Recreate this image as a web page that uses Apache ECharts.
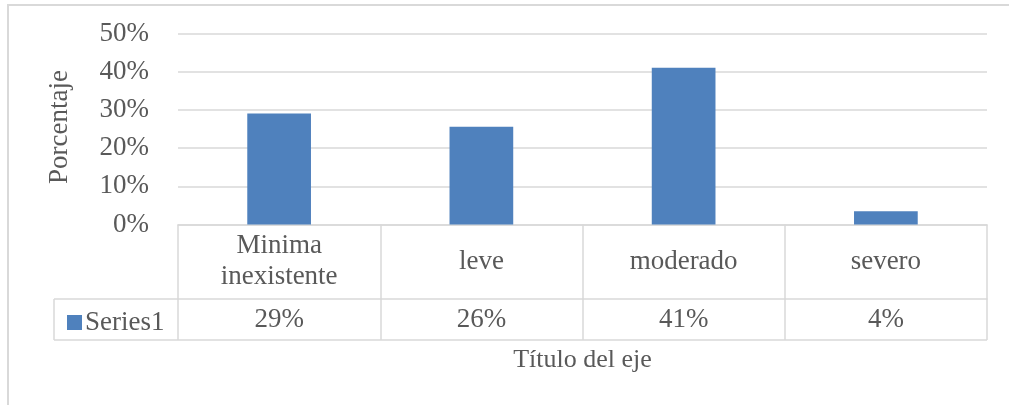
<!DOCTYPE html>
<html>
<head>
<meta charset="utf-8">
<script src="https://cdn.jsdelivr.net/npm/echarts@6/dist/echarts.min.js"></script>
<style>
  html, body { margin: 0; padding: 0; background: #fff; }
  #chart { width: 1009px; height: 405px; }
</style>
</head>
<body>
<div id="chart"></div>
<script>
// datos del gráfico
const categories = ['Minima\ninexistente', 'leve', 'moderado', 'severo'];
const values = [29.1, 25.6, 41.1, 3.5];
const yTicks = [0, 10, 20, 30, 40, 50];
const seriesName = 'Series1';

const FONT = '"Liberation Serif", "Times New Roman", serif';
const FS = 27;
const TXT = '#595959';
const LINE = '#d9d9d9';

// posiciones del área de trazado / tabla
const gridLeft = 178, gridRight = 987, gridTop = 33.7, gridBottom = 224.5;
const rowLine = 299, tableBottom = 340, legendLeft = 54;

const chart = echarts.init(document.getElementById('chart'));

const option = {
  animation: false,
  grid: { left: gridLeft, right: 1009 - gridRight, top: gridTop, bottom: 405 - gridBottom },
  legend: {
    data: [seriesName],
    left: 62, top: rowLine + 5,
    icon: 'rect', itemWidth: 15, itemHeight: 15, itemGap: 5,
    textStyle: { fontFamily: FONT, fontSize: FS, color: TXT, padding: [0, 0, 0, -2] }
  },
  xAxis: [
    {
      type: 'category',
      data: categories,
      axisLine: { lineStyle: { color: LINE, width: 1.5 } },
      axisTick: { show: true, length: tableBottom - gridBottom, lineStyle: { color: LINE, width: 1.5 } },
      axisLabel: {
        margin: (rowLine - gridBottom) / 2, verticalAlign: 'middle', lineHeight: 31,
        fontFamily: FONT, fontSize: FS, color: TXT, interval: 0, padding: [4, 0, 0, 0]
      }
    },
    {
      type: 'category',
      data: categories,
      position: 'bottom',
      offset: rowLine - gridBottom,
      axisLine: { lineStyle: { color: LINE, width: 1.5 } },
      axisTick: { show: false },
      axisLabel: {
        margin: (tableBottom - rowLine) / 2, verticalAlign: 'middle', interval: 0,
        fontFamily: FONT, fontSize: FS, color: TXT, padding: [3, 0, 0, 0],
        formatter: (v, i) => Math.round(values[i]) + '%'
      },
      name: 'Título del eje',
      nameLocation: 'middle',
      nameGap: 61,
      nameTextStyle: { fontFamily: FONT, fontSize: FS - 1, color: TXT, verticalAlign: 'middle' }
    }
  ],
  yAxis: {
    type: 'value',
    min: yTicks[0], max: yTicks[yTicks.length - 1], interval: 10,
    axisLine: { show: false },
    axisTick: { show: false },
    splitLine: { lineStyle: { color: LINE, width: 1.5 } },
    axisLabel: { formatter: '{value}%', margin: 29, fontFamily: FONT, fontSize: FS, color: TXT, padding: [6, 0, 0, 0] },
    name: 'Porcentaje',
    nameLocation: 'middle',
    nameGap: 105,
    nameTextStyle: { fontFamily: FONT, fontSize: FS, color: TXT, padding: [0, 0, 0, 4] }
  },
  series: [{
    name: seriesName,
    type: 'bar',
    data: values,
    barWidth: '31.5%',
    itemStyle: { color: '#4f81bd' }
  }],
  graphic: [
    // borde del gráfico
    { type: 'rect', shape: { x: 8, y: 5, width: 1100, height: 500 }, style: { fill: null, stroke: LINE, lineWidth: 2 }, silent: true },
    // celda de la leyenda en la tabla
    { type: 'line', shape: { x1: legendLeft, y1: rowLine, x2: gridLeft, y2: rowLine }, style: { stroke: LINE, lineWidth: 1.5 } },
    { type: 'line', shape: { x1: legendLeft, y1: tableBottom, x2: gridRight, y2: tableBottom }, style: { stroke: LINE, lineWidth: 1.5 } },
    { type: 'line', shape: { x1: legendLeft, y1: rowLine, x2: legendLeft, y2: tableBottom }, style: { stroke: LINE, lineWidth: 1.5 } }
  ]
};

chart.setOption(option);
</script>
</body>
</html>
